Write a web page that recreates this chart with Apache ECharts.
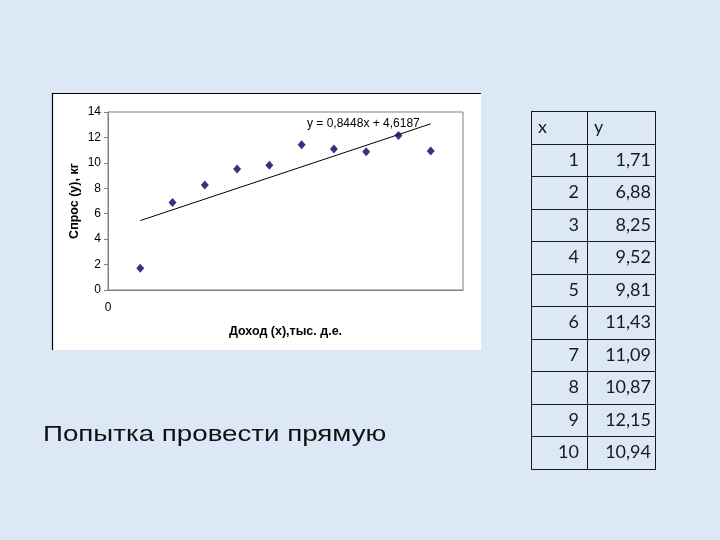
<!DOCTYPE html>
<html>
<head>
<meta charset="utf-8">
<script src="https://cdn.jsdelivr.net/npm/echarts@6/dist/echarts.min.js"></script>
<style>
html,body{margin:0;padding:0;background:#dce8f6;}
#main{width:720px;height:540px;}
</style>
</head>
<body>
<div id="main"></div>
<script>
// Data
var xValues = [1, 2, 3, 4, 5, 6, 7, 8, 9, 10];
var yValues = [1.71, 6.88, 8.25, 9.52, 9.81, 11.43, 11.09, 10.87, 12.15, 10.94];
var trendX = [1, 10];
var trendY = [5.46, 13.07];
var equationText = 'y = 0,8448x + 4,6187';
var xAxisTitle = 'Доход (х),тыс. д.е.';
var yAxisTitle = 'Спрос (у), кг';
var tableHeader = ['x', 'y'];
var caption = 'Попытка провести прямую';

var chart = echarts.init(document.getElementById('main'), null, {renderer: 'canvas'});

function fmt(v) { return v.toFixed(2).replace('.', ','); }

var graphics = [];
// chart box
graphics.push({type: 'rect', z: -10, shape: {x: 52, y: 93, width: 429, height: 257}, style: {fill: '#ffffff'}, silent: true});
graphics.push({type: 'line', z: -9, shape: {x1: 52, y1: 93.5, x2: 481, y2: 93.5}, style: {stroke: '#000', lineWidth: 1.2}});
graphics.push({type: 'line', z: -9, shape: {x1: 52.5, y1: 93, x2: 52.5, y2: 350}, style: {stroke: '#000', lineWidth: 1.2}});
// equation
graphics.push({type: 'text', left: 307, top: 118, style: {text: equationText, font: '12px "Liberation Sans", Arial, sans-serif', fill: '#000'}});

// table
var tL = 531, tM = 587, tR = 655, tT = 111, rowH = 32.5;
var nRows = xValues.length + 1;
var tB = tT + nRows * rowH;
for (var r = 0; r <= nRows; r++) {
  var yy = Math.round(tT + r * rowH) + 0.5;
  graphics.push({type: 'line', shape: {x1: tL, y1: yy, x2: tR, y2: yy}, style: {stroke: '#1a1a1a', lineWidth: 1}});
}
[tL, tM, tR].forEach(function (xx) {
  graphics.push({type: 'line', shape: {x1: xx + 0.5, y1: tT, x2: xx + 0.5, y2: Math.round(tB) + 1}, style: {stroke: '#1a1a1a', lineWidth: 1}});
});
var tFont = '18px Lato, "Open Sans", sans-serif';
graphics.push({type: 'text', x: 538, y: tT + rowH / 2, style: {text: tableHeader[0], font: tFont, fill: '#1a1a1a', textAlign: 'left', textVerticalAlign: 'middle'}});
graphics.push({type: 'text', x: 594, y: tT + rowH / 2, style: {text: tableHeader[1], font: tFont, fill: '#1a1a1a', textAlign: 'left', textVerticalAlign: 'middle'}});
for (var i = 0; i < xValues.length; i++) {
  var cy = tT + (i + 1.5) * rowH;
  graphics.push({type: 'text', x: 579, y: cy, style: {text: String(xValues[i]), font: tFont, fill: '#1a1a1a', textAlign: 'right', textVerticalAlign: 'middle'}});
  graphics.push({type: 'text', x: 651, y: cy, style: {text: fmt(yValues[i]), font: tFont, fill: '#1a1a1a', textAlign: 'right', textVerticalAlign: 'middle'}});
}
// caption
graphics.push({type: 'text', x: 43, y: 435, scaleX: 1.26, style: {text: caption, font: '22px "Liberation Sans", Arial, sans-serif', fill: '#111', textAlign: 'left', textVerticalAlign: 'middle'}});

var option = {
  backgroundColor: '#dce8f6',
  animation: false,
  grid: {left: 108, top: 112, width: 355, height: 178, show: true, backgroundColor: '#ffffff', borderColor: '#808080', borderWidth: 1},
  xAxis: {
    type: 'value', min: 0, max: 11, interval: 1,
    axisLine: {show: true, lineStyle: {color: '#808080'}},
    axisTick: {show: false},
    splitLine: {show: false},
    axisLabel: {margin: 12, color: '#000', fontFamily: '"Liberation Sans", Arial', fontSize: 12,
      formatter: function (v) { return v === 0 ? '0' : ''; }},
    name: xAxisTitle, nameLocation: 'middle', nameGap: 35,
    nameTextStyle: {color: '#000', fontFamily: '"Liberation Sans", Arial', fontSize: 12.5, fontWeight: 'bold'}
  },
  yAxis: {
    type: 'value', min: 0, max: 14, interval: 2,
    axisLine: {show: true, lineStyle: {color: '#808080'}},
    axisTick: {show: true, length: 4, lineStyle: {color: '#808080'}},
    splitLine: {show: false},
    axisLabel: {margin: 7, color: '#000', fontFamily: '"Liberation Sans", Arial', fontSize: 12},
    name: yAxisTitle, nameLocation: 'middle', nameGap: 27, nameRotate: 90,
    nameTextStyle: {color: '#000', fontFamily: '"Liberation Sans", Arial', fontSize: 12.5, fontWeight: 'bold'}
  },
  series: [
    {
      type: 'line', data: trendX.map(function (x, i) { return [x, trendY[i]]; }),
      symbol: 'none', lineStyle: {color: '#000', width: 1}, z: 2, silent: true
    },
    {
      type: 'scatter', data: xValues.map(function (x, i) { return [x, yValues[i]]; }),
      symbol: 'diamond', symbolSize: [8, 9], itemStyle: {color: '#000066'}, z: 3
    }
  ],
  graphic: graphics
};
chart.setOption(option);
</script>
</body>
</html>
